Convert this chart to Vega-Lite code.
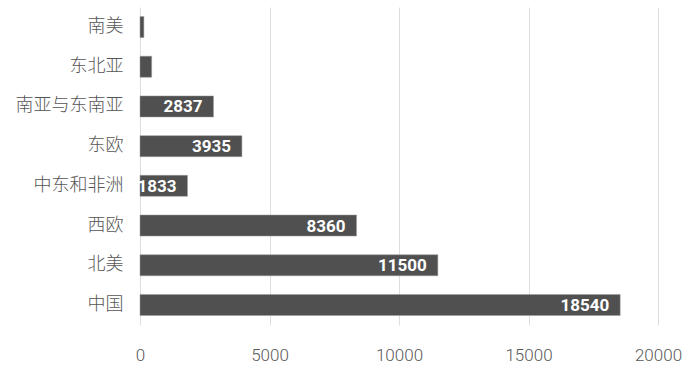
{
  "$schema": "https://vega.github.io/schema/vega-lite/v6.json",
  "width": 518,
  "height": 318,
  "autosize": {"type": "none"},
  "padding": {"left": 140, "top": 7, "right": 35, "bottom": 54},
  "background": "white",
  "config": {"view": {"stroke": null}},
  "data": {"values": [
    {"region": "南美", "value": 150},
    {"region": "东北亚", "value": 450},
    {"region": "南亚与东南亚", "value": 2837},
    {"region": "东欧", "value": 3935},
    {"region": "中东和非洲", "value": 1833},
    {"region": "西欧", "value": 8360},
    {"region": "北美", "value": 11500},
    {"region": "中国", "value": 18540}
  ]},
  "encoding": {
    "y": {"field": "region", "type": "nominal", "sort": null,
      "scale": {"paddingInner": 0.47, "paddingOuter": 0.24},
      "axis": {"title": null, "domain": false, "ticks": false, "labelPadding": 17,
        "labelFont": "Noto Sans CJK SC", "labelFontWeight": 300, "labelFontSize": 18, "labelColor": "#555555"}},
    "x": {"field": "value", "type": "quantitative",
      "scale": {"domain": [0, 20000], "nice": false},
      "axis": {"title": null, "domain": false, "ticks": false, "values": [0, 5000, 10000, 15000, 20000],
        "format": "d", "labelFlush": false, "labelPadding": 22, "labelFont": "Roboto", "labelFontWeight": 300, "labelFontSize": 17,
        "labelColor": "#595959", "gridColor": "#dedede", "gridWidth": 1}}
  },
  "layer": [
    {"mark": {"type": "bar", "color": "#505050", "stroke": "#9a9a9a", "strokeWidth": 0.5}},
    {"transform": [{"filter": "datum.value > 1000"}],
     "mark": {"type": "text", "align": "right", "baseline": "middle", "dx": -11, "dy": 1,
       "font": "Roboto", "fontWeight": "bold", "fontSize": 17, "color": "white"},
     "encoding": {"text": {"field": "value", "type": "quantitative", "format": "d"}}}
  ]
}
